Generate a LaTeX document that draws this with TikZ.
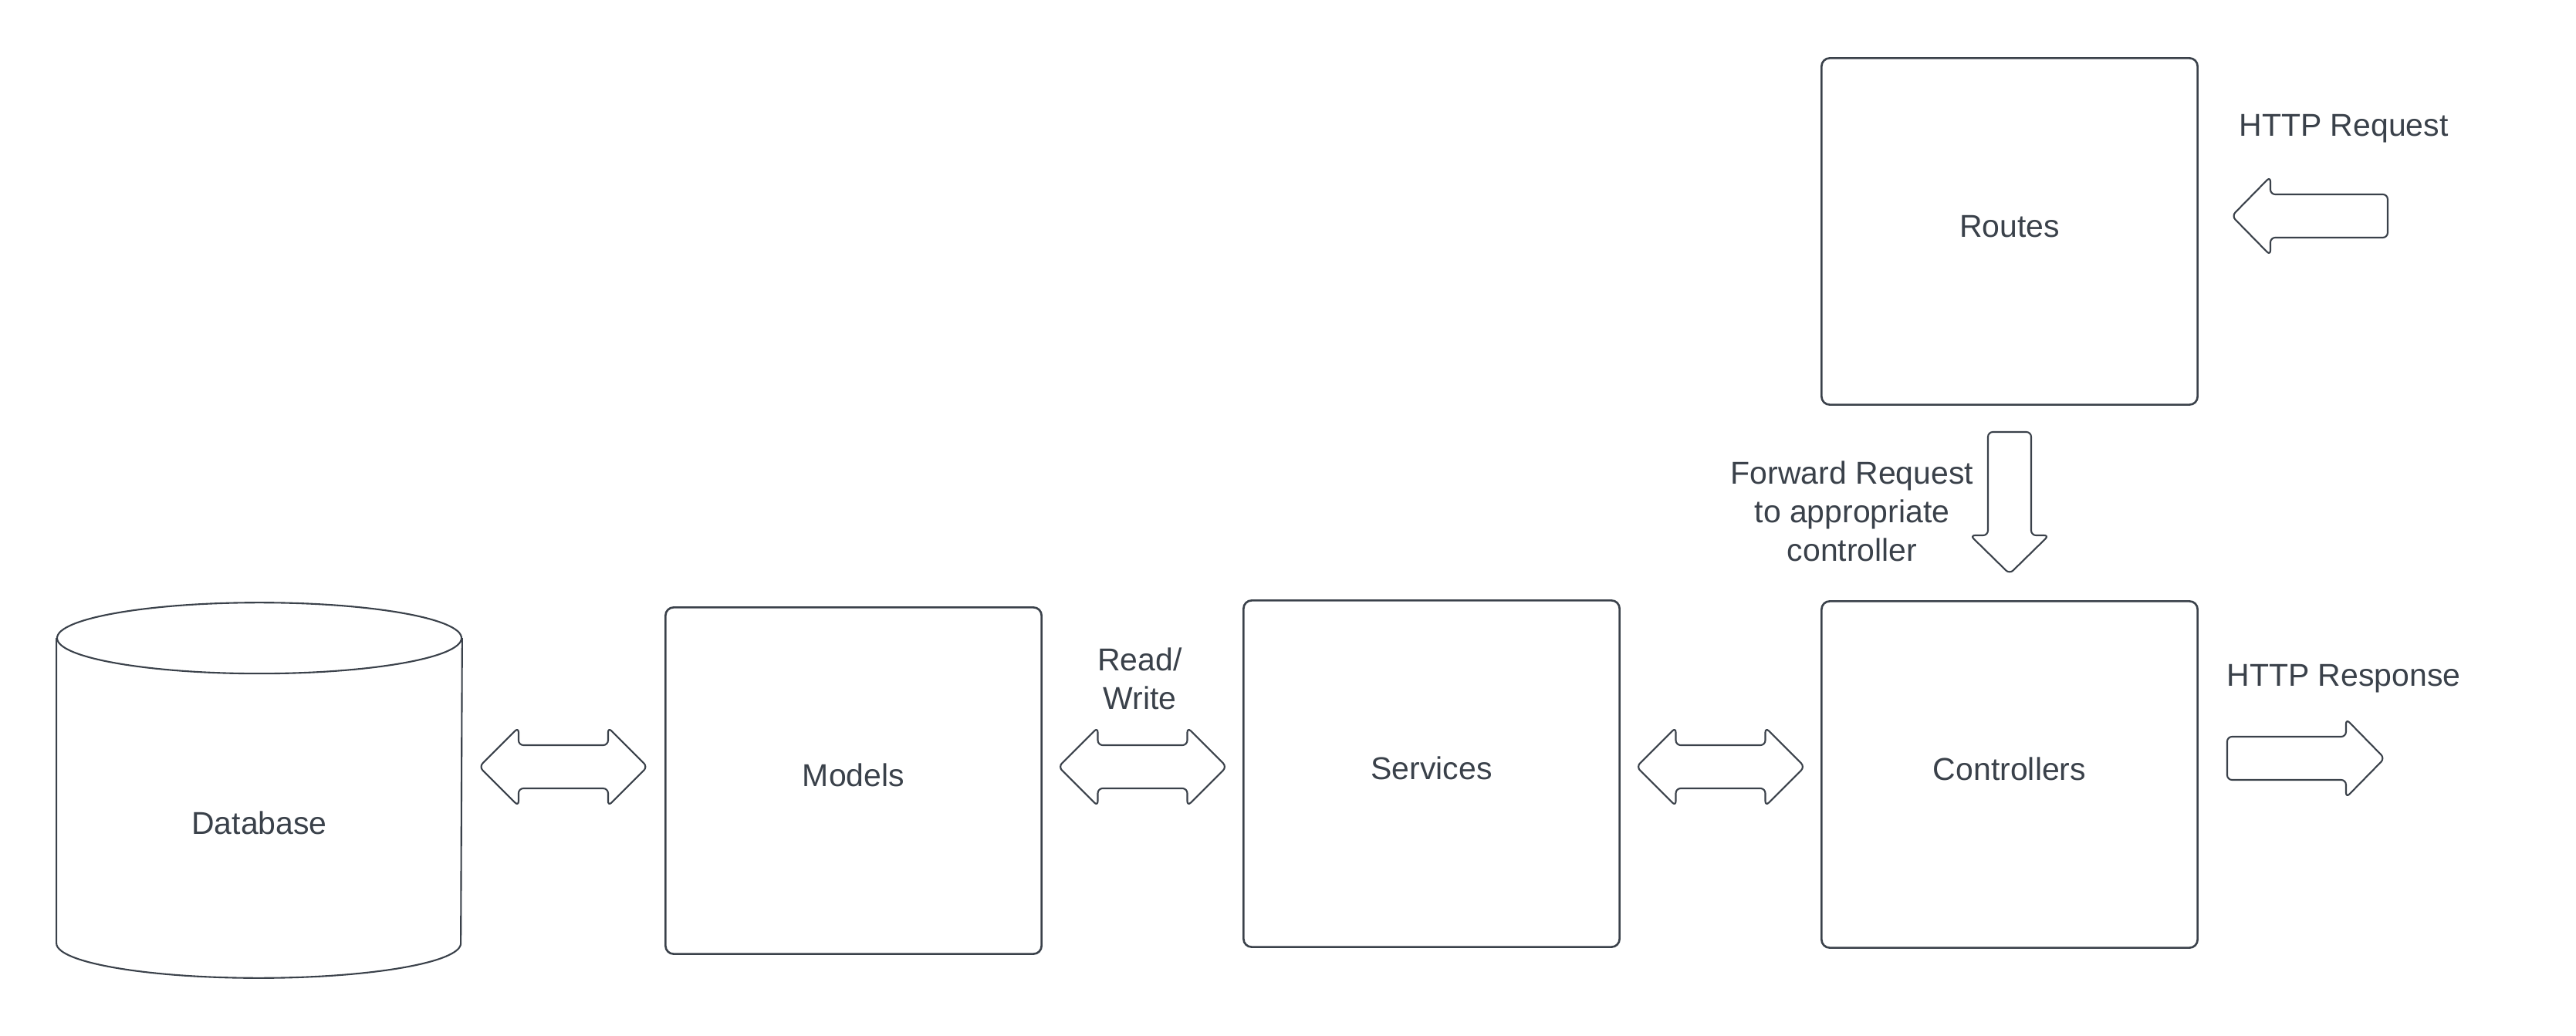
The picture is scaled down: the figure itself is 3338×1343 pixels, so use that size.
\documentclass[tikz,border=0pt]{standalone}
\usepackage{fontspec}
\setmainfont{Liberation Sans}
\usetikzlibrary{calc}

\definecolor{ink}{RGB}{58,65,74}
\newcommand{\diagfont}{\fontsize{11.65}{14.2}\selectfont}

\tikzset{
  box/.style={draw=ink, line width=0.75pt, rounded corners=3pt, minimum width=4.87cm,
    minimum height=4.49cm, inner sep=0pt, text=ink, font=\diagfont,
    text height=0.72em, text depth=0.3em},
  lbl/.style={text=ink, font=\diagfont, inner sep=0pt, align=center},
  arrowline/.style={draw=ink, line width=0.6pt, rounded corners=1.8pt, line join=round},
  pics/blockarrow/.style={code={
    \draw[arrowline] (-#1,-28) -- (#1-50,-28) -- (#1-50,-51) -- (#1,0)
      -- (#1-50,51) -- (#1-50,28) -- (-#1,28) -- cycle;}},
  pics/dblarrow/.style={code={
    \draw[arrowline] (-109,0) -- (-58,-51) -- (-58,-28) -- (58,-28) -- (58,-51) -- (109,0)
      -- (58,51) -- (58,28) -- (-58,28) -- (-58,51) -- cycle;}}
}

\begin{document}
\begin{tikzpicture}[x=0.01cm, y=-0.01cm]
    \useasboundingbox (0,0) rectangle (3338,1343);

    % layers
    \node[box] (routes) at (2604,300) {Routes};
    \node[box] (controllers) at (2604,1004) {Controllers};
    \node[box] (services) at (1855,1003) {Services};
    \node[box] (models) at (1106,1012) {Models};

    % database cylinder
    \node[minimum width=5.24cm, minimum height=3.94cm, inner sep=0pt] (db) at (336,1025) {};
    \draw[ink, line width=0.6pt] (db.north west) -- (db.south west)
        arc[start angle=180, end angle=0, x radius=262, y radius=45] -- (db.north east);
    \draw[ink, line width=0.6pt] (db.north) ellipse [x radius=262, y radius=46];
    \node[lbl] (dblbl) at (336,1067) {Database};

    % block arrows
    \coordinate (arrowrow) at (0,994);
    \pic (dbmodarr) at ($(db.east |- arrowrow)!0.5!(models.west |- arrowrow)$) {dblarrow};
    \pic (modsrvarr) at ($(models.east |- arrowrow)!0.5!(services.west |- arrowrow)$) {dblarrow};
    \pic (srvctlarr) at ($(services.east |- arrowrow)!0.5!(controllers.west |- arrowrow)$) {dblarrow};
    \pic[rotate=-90] (fwdarr) at ($(routes.south)!0.5!(controllers.north)$) {blockarrow=92};
    \pic[rotate=180] (reqarr) at ($(routes.east)+(144,-20)$) {blockarrow=101};
    \pic (resarr) at ($(controllers.east)+(139,-21)$) {blockarrow=102};

    % labels
    \node[lbl, anchor=base] (reqlbl) at (3037,177) {HTTP Request};
    \node[lbl, anchor=base] (reslbl) at (3037,889) {HTTP Response};
    \node[lbl] (fwdlbl) at (2400,663) {Forward Request\\to appropriate\\controller};
    \node[lbl] (rwlbl) at (1477,880) {Read/\\Write};
\end{tikzpicture}
\end{document}
